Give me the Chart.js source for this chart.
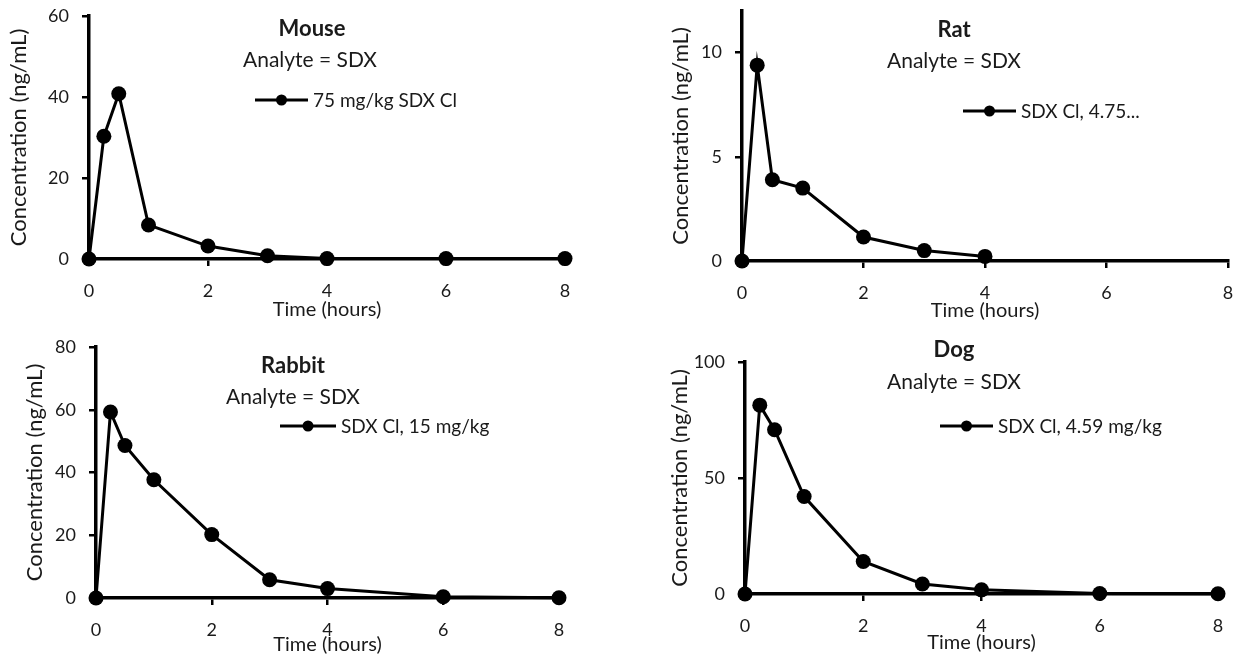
<!DOCTYPE html>
<html>
<head>
<meta charset="utf-8">
<script src="https://cdn.jsdelivr.net/npm/chart.js@4.4.1/dist/chart.umd.min.js"></script>
<style>
  html, body { margin: 0; padding: 0; background: #fff; }
  body { width: 1236px; height: 658px; position: relative; overflow: hidden; }
  canvas { position: absolute; }
</style>
</head>
<body>
<canvas id="mouseChart" width="618" height="330" style="left:0;top:0"></canvas>
<canvas id="ratChart" width="616" height="330" style="left:620px;top:0"></canvas>
<canvas id="rabbitChart" width="618" height="328" style="left:0;top:330px"></canvas>
<canvas id="dogChart" width="616" height="328" style="left:620px;top:330px"></canvas>
<script>
// sampling times (hours)
let times = [0, 0.25, 0.5, 1, 2, 3, 4, 6, 8];
let ratTimes = [0, 0.25, 0.5, 1, 2, 3, 4];

// concentrations (ng/mL)
let mouseConc = [0, 30.3, 40.8, 8.4, 3.2, 0.8, 0.1, 0.1, 0.1];
let ratConc = [0, 9.4, 3.9, 3.5, 1.15, 0.5, 0.22];
let rabbitConc = [0, 59.3, 48.6, 37.7, 20.2, 5.8, 3.0, 0.4, 0.1];
let dogConc = [0, 81.4, 70.8, 42.0, 14.0, 4.3, 1.8, 0.2, 0.1];

let species = ['Mouse', 'Rat', 'Rabbit', 'Dog'];
let doseLabels = ['75 mg/kg SDX Cl', 'SDX Cl, 4.75...', 'SDX Cl, 15 mg/kg', 'SDX Cl, 4.59 mg/kg'];
let analyteText = 'Analyte = SDX';

let xTicks = [0, 2, 4, 6, 8];
let mouseYTicks = [0, 20, 40, 60];
let ratYTicks = [0, 5, 10];
let rabbitYTicks = [0, 20, 40, 60, 80];
let dogYTicks = [0, 50, 100];
let yMax = [60, 12, 80, 100];

const FONT = 'Lato, "Liberation Sans", sans-serif';
const TEXT = '#1a1a1a';
const X_TITLE_SIZE = 20;
const Y_TITLE_SIZE = 22;

// draws the panel title, the "Analyte" line and the little legend
const panelText = {
    id: 'panelText',
    afterDraw(chart, args, o) {
        const ctx = chart.ctx;
        const ox = o.box.left, oy = o.box.top;
        ctx.save();
        ctx.fillStyle = TEXT;
        ctx.textAlign = 'center';
        ctx.textBaseline = 'middle';
        ctx.font = 'bold 22px ' + FONT;
        ctx.fillText(o.title, o.titleX - ox, o.titleY - oy);
        ctx.font = '21px ' + FONT;
        ctx.fillText(analyteText, o.subX - ox, o.subY - oy);

        let ds = chart.data.datasets[0];
        let lx = o.legX - ox, ly = o.legY - oy;
        ctx.strokeStyle = '#000';
        ctx.fillStyle = '#000';
        ctx.lineWidth = 3;
        ctx.beginPath();
        ctx.moveTo(lx, ly);
        ctx.lineTo(lx + o.legW, ly);
        ctx.stroke();
        ctx.beginPath();
        ctx.arc(lx + o.legW / 2, ly, 5.5, 0, Math.PI * 2);
        ctx.fill();
        ctx.fillStyle = TEXT;
        ctx.textAlign = 'left';
        ctx.font = '19px ' + FONT;
        ctx.fillText(ds.label, lx + o.legW + 5, ly + 1);
        ctx.restore();
    }
};

function makeChart(id, xs, ys, label, yTicks, max, box, area, yTitleX, xTitleY, text) {
    let yLH = Y_TITLE_SIZE * 1.2, xLH = X_TITLE_SIZE * 1.2;
    let padLeft = yTitleX - box.left - 4 - yLH / 2;
    let yWidth = area.l - box.left - padLeft;
    let xBottom = xTitleY - box.top + 4 + xLH / 2;
    let xHeight = xBottom - (area.b - box.top);

    text.box = box;

    return new Chart(document.getElementById(id), {
        type: 'scatter',
        data: {
            datasets: [{
                label: label,
                data: xs.map((t, i) => ({x: t, y: ys[i]})),
                showLine: true,
                borderColor: '#000',
                backgroundColor: '#000',
                borderWidth: 3,
                pointRadius: 7.5,
                pointHoverRadius: 7.5,
                pointBackgroundColor: '#000',
                pointBorderColor: '#000',
                pointBorderWidth: 0,
                tension: 0,
                clip: false
            }]
        },
        options: {
            responsive: false,
            animation: false,
            devicePixelRatio: 1,
            layout: {
                padding: {
                    left: padLeft,
                    top: area.t - box.top,
                    right: box.left + box.width - area.r,
                    bottom: box.height - xBottom
                }
            },
            plugins: {
                legend: {display: false},
                tooltip: {enabled: false},
                panelText: text
            },
            scales: {
                x: {
                    type: 'linear',
                    min: 0,
                    max: 8,
                    afterBuildTicks: s => { s.ticks = xTicks.map(v => ({value: v})); },
                    afterFit: s => { s.height = xHeight; s.paddingLeft = 0; s.paddingRight = 0; },
                    border: {display: true, color: '#000', width: 3.5},
                    grid: {drawOnChartArea: false, drawTicks: true, tickLength: 7, color: '#000', lineWidth: 2.5},
                    ticks: {color: TEXT, font: {family: FONT, size: 18}, padding: 14, maxRotation: 0},
                    title: {display: true, text: 'Time (hours)', color: TEXT, font: {family: FONT, size: X_TITLE_SIZE}}
                },
                y: {
                    type: 'linear',
                    min: 0,
                    max: max,
                    afterBuildTicks: s => { s.ticks = yTicks.map(v => ({value: v})); },
                    afterFit: s => { s.width = yWidth; s.paddingTop = 0; s.paddingBottom = 0; },
                    border: {display: true, color: '#000', width: 3.5},
                    grid: {drawOnChartArea: false, drawTicks: true, tickLength: 7, color: '#000', lineWidth: 2.5},
                    ticks: {color: TEXT, font: {family: FONT, size: 18}, padding: 13},
                    title: {display: true, text: 'Concentration (ng/mL)', color: TEXT, font: {family: FONT, size: Y_TITLE_SIZE}}
                }
            }
        },
        plugins: [panelText]
    });
}

makeChart('mouseChart', times, mouseConc, doseLabels[0], mouseYTicks, yMax[0],
    {left: 0, top: 0, width: 618, height: 330},
    {l: 89, t: 16, r: 565, b: 259}, 19, 310,
    {title: species[0], titleX: 312, titleY: 29, subX: 310, subY: 60, legX: 255, legY: 100, legW: 53});

makeChart('ratChart', ratTimes, ratConc, doseLabels[1], ratYTicks, yMax[1],
    {left: 620, top: 0, width: 616, height: 330},
    {l: 742, t: 11, r: 1228, b: 261}, 681, 311,
    {title: species[1], titleX: 954, titleY: 30, subX: 954, subY: 61, legX: 963, legY: 111, legW: 53});

makeChart('rabbitChart', times, rabbitConc, doseLabels[2], rabbitYTicks, yMax[2],
    {left: 0, top: 330, width: 618, height: 328},
    {l: 96, t: 347, r: 559, b: 598}, 35, 645,
    {title: species[2], titleX: 293, titleY: 366, subX: 293, subY: 397, legX: 280, legY: 426, legW: 56});

makeChart('dogChart', times, dogConc, doseLabels[3], dogYTicks, yMax[3],
    {left: 620, top: 330, width: 616, height: 328},
    {l: 745, t: 362, r: 1218, b: 594}, 680, 643,
    {title: species[3], titleX: 954, titleY: 350, subX: 954, subY: 382, legX: 940, legY: 426, legW: 53});
</script>
</body>
</html>
